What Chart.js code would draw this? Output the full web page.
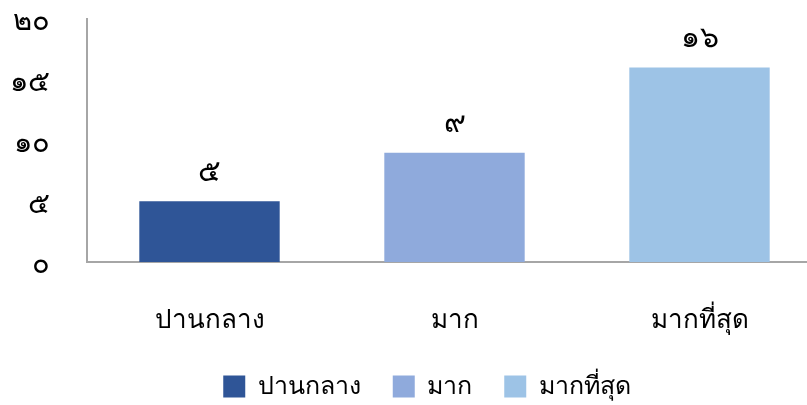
<!DOCTYPE html>
<html>
<head>
<meta charset="utf-8">
<script src="https://cdn.jsdelivr.net/npm/chart.js@4"></script>
<style>
  html, body { margin: 0; padding: 0; background: #fff; overflow: hidden; }
  #wrap { width: 822px; height: 405px; }
</style>
</head>
<body>
<div id="wrap"><canvas id="chart" width="822" height="405"></canvas></div>
<script>
const categories = ['ปานกลาง', 'มาก', 'มากที่สุด'];
const values = [5, 9, 16];
const barColors = ['#2F5597', '#8FAADC', '#9DC3E6'];
const yTicks = [0, 5, 10, 15, 20];

const thaiDigits = ['๐', '๑', '๒', '๓', '๔', '๕', '๖', '๗', '๘', '๙'];
function toThai(n) {
    return String(n).replace(/[0-9]/g, d => thaiDigits[+d]);
}

const fontFamily = "Tahoma, 'Noto Sans', sans-serif";

const datasets = categories.map((c, i) => ({
    label: c,
    data: categories.map((_, j) => j === i ? values[i] : null),
    backgroundColor: barColors[i],
    barPercentage: 0.573,
    categoryPercentage: 1,
    skipNull: true,
    grouped: false,
}));

const valueLabels = {
    id: 'valueLabels',
    afterLayout(chart) {
        // legend sits a bit right of the canvas centre in the original
        const l = chart.legend;
        l.left += 16;
        l.right += 16;
        l.top += 4;
        l.bottom += 4;
    },
    afterDatasetsDraw(chart) {
        const c = chart.ctx;
        c.save();
        c.font = '300 30px ' + fontFamily;
        c.fillStyle = '#000';
        c.textAlign = 'center';
        c.textBaseline = 'bottom';
        chart.data.datasets.forEach((ds, i) => {
            const meta = chart.getDatasetMeta(i);
            meta.data.forEach((bar, j) => {
                if (ds.data[j] == null) return;
                c.fillText(toThai(ds.data[j]), bar.x, bar.y - 14);
            });
        });
        c.restore();
    }
};

new Chart(document.getElementById('chart'), {
    type: 'bar',
    data: { labels: categories, datasets: datasets },
    options: {
        responsive: false,
        animation: false,
        layout: { padding: 0 },
        plugins: {
            legend: {
                position: 'bottom',
                labels: {
                    boxWidth: 22,
                    boxHeight: 22,
                    padding: 32,
                    color: '#000',
                    font: { family: fontFamily, size: 25 },
                },
            },
            tooltip: { enabled: false },
        },
        scales: {
            x: {
                grid: { display: false, drawTicks: false },
                border: { color: '#A6A6A6', width: 2 },
                afterFit(axis) {
                    const lh = axis.chart.legend ? axis.chart.legend.height : 0;
                    axis.height = 143 - lh;
                },
                ticks: {
                    color: '#000',
                    padding: 43,
                    font: { family: fontFamily, size: 26 },
                },
            },
            y: {
                min: 0,
                max: 20,
                grid: { display: false, drawTicks: false },
                border: { color: '#A6A6A6', width: 2 },
                afterFit(axis) {
                    axis.width = 87;
                    axis.paddingTop = 19;
                    axis.paddingBottom = 0;
                },
                afterBuildTicks(axis) { axis.ticks = yTicks.map(v => ({ value: v })); },
                ticks: {
                    color: '#000',
                    padding: 37,
                    labelOffset: 3,
                    font: { family: fontFamily, size: 29, weight: '300' },
                    callback: v => toThai(v),
                },
            },
        },
    },
    plugins: [valueLabels],
});
</script>
</body>
</html>
